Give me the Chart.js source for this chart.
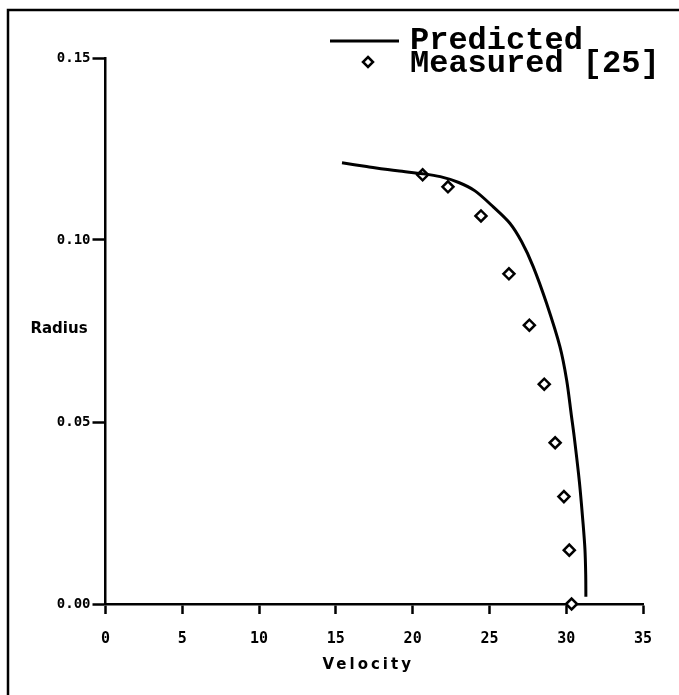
<!DOCTYPE html>
<html>
<head>
<meta charset="utf-8">
<script src="https://cdn.jsdelivr.net/npm/chart.js@4.4.1/dist/chart.umd.min.js"></script>
<style>
  html, body { margin: 0; padding: 0; background: #fff; }
  canvas { display: block; }
</style>
</head>
<body>
<canvas id="c" width="679" height="695"></canvas>
<script>
// ---- data ----
const velocityTicks = [0, 5, 10, 15, 20, 25, 30, 35];
const radiusTicks = [0, 0.05, 0.10, 0.15];
const radiusTickLabels = ['0.00', '0.05', '0.10', '0.15'];

const predictedVelocity = [15.4, 17.0, 19.0, 20.65, 21.8, 23.0, 24.06, 25.25, 26.33, 27.1, 27.85, 28.72, 29.59, 30.03, 30.33, 30.52, 30.86, 31.1, 31.22, 31.27, 31.28];
const predictedRadius   = [0.1212, 0.1202, 0.1190, 0.1182, 0.1174, 0.1158, 0.1135, 0.1091, 0.1046, 0.0995, 0.0927, 0.0826, 0.0707, 0.0615, 0.0520, 0.0460, 0.0335, 0.0220, 0.0150, 0.0080, 0.0020];

const measuredVelocity = [20.65, 22.3, 24.45, 26.27, 27.6, 28.57, 29.28, 29.85, 30.2, 30.35];
const measuredRadius   = [0.1179, 0.1146, 0.1066, 0.0907, 0.0766, 0.0604, 0.0443, 0.0295, 0.0148, 0.0];

const seriesLabels = ['Predicted', 'Measured [25]'];
const xTitle = 'Velocity';
const yTitle = 'Radius';

// ---- helpers ----
const toPoints = (xs, ys) => xs.map((x, i) => ({ x: x, y: ys[i] }));

const framePlugin = {
  id: 'frame',
  beforeDraw(chart) {
    const ctx = chart.ctx;
    ctx.save();
    ctx.fillStyle = '#fff';
    ctx.fillRect(0, 0, chart.width, chart.height);
    ctx.strokeStyle = '#000';
    ctx.lineWidth = 2.5;
    ctx.beginPath();
    ctx.moveTo(8, chart.height);
    ctx.lineTo(8, 10);
    ctx.lineTo(chart.width, 10);
    ctx.stroke();
    ctx.restore();
  },
  afterDraw(chart) {
    const ctx = chart.ctx;
    const xs = chart.scales.x, ys = chart.scales.y;
    ctx.save();
    ctx.fillStyle = '#000';
    // axis titles
    ctx.font = 'bold 15px "DejaVu Sans"';
    ctx.textAlign = 'center';
    ctx.textBaseline = 'middle';
    ctx.fillText(yTitle, 59, ys.getPixelForValue(0.075) - 2);
    ctx.letterSpacing = '3px';
    ctx.fillText(xTitle, (xs.left + xs.right) / 2 - 6, 665);
    ctx.letterSpacing = '0px';
    // legend
    const ds = chart.data.datasets;
    ctx.font = 'bold 32px "Liberation Mono"';
    ctx.textAlign = 'left';
    ctx.textBaseline = 'alphabetic';
    // line sample
    ctx.strokeStyle = '#000';
    ctx.lineWidth = 3;
    ctx.beginPath();
    ctx.moveTo(330, 41);
    ctx.lineTo(399, 41);
    ctx.stroke();
    ctx.fillText(ds[0].label, 410, 49);
    // diamond sample
    ctx.lineWidth = 2.5;
    ctx.fillStyle = '#fff';
    ctx.beginPath();
    const cx = 368, cy = 62, r = 5;
    ctx.moveTo(cx, cy - r);
    ctx.lineTo(cx + r, cy);
    ctx.lineTo(cx, cy + r);
    ctx.lineTo(cx - r, cy);
    ctx.closePath();
    ctx.fill();
    ctx.stroke();
    ctx.fillStyle = '#000';
    ctx.fillText(ds[1].label, 410, 72);
    ctx.restore();
  }
};

new Chart(document.getElementById('c'), {
  type: 'scatter',
  data: {
    datasets: [
      {
        label: seriesLabels[0],
        data: toPoints(predictedVelocity, predictedRadius),
        showLine: true,
        borderColor: '#000',
        borderWidth: 3,
        pointRadius: 0,
        tension: 0.3,
        fill: false,
        clip: false
      },
      {
        label: seriesLabels[1],
        data: toPoints(measuredVelocity, measuredRadius),
        showLine: false,
        pointStyle: 'rectRot',
        pointRadius: 5.5,
        pointBorderWidth: 2.5,
        borderColor: '#000',
        backgroundColor: '#fff',
        clip: false
      }
    ]
  },
  options: {
    responsive: false,
    animation: false,
    devicePixelRatio: 1,
    layout: { padding: { left: 0, top: 58, right: 36, bottom: 0 } },
    plugins: {
      legend: { display: false },
      tooltip: { enabled: false }
    },
    scales: {
      x: {
        type: 'linear',
        min: 0,
        max: 35,
        afterBuildTicks: s => { s.ticks = velocityTicks.map(v => ({ value: v })); },
        afterFit: s => { s.height = 91; },
        grid: { drawOnChartArea: false, drawTicks: true, tickLength: 10, tickWidth: 2.5, tickColor: '#000' },
        border: { display: true, color: '#000', width: 2.5 },
        ticks: {
          color: '#000',
          padding: 16,
          autoSkip: false,
          maxRotation: 0,
          font: { family: 'DejaVu Sans Mono', weight: 'bold', size: 15 },
          callback: v => String(v)
        }
      },
      y: {
        type: 'linear',
        min: 0,
        max: 0.15,
        afterBuildTicks: s => { s.ticks = radiusTicks.map(v => ({ value: v })); },
        afterFit: s => { s.width = 105.5; },
        grid: { drawOnChartArea: false, drawTicks: true, tickLength: 13, tickWidth: 2.5, tickColor: '#000' },
        border: { display: true, color: '#000', width: 2.5 },
        ticks: {
          color: '#000',
          padding: 2,
          autoSkip: false,
          font: { family: 'DejaVu Sans Mono', weight: 'bold', size: 14 },
          callback: (v) => {
            const i = radiusTicks.findIndex(t => Math.abs(t - v) < 1e-9);
            return i >= 0 ? radiusTickLabels[i] : '';
          }
        }
      }
    }
  },
  plugins: [framePlugin]
});
</script>
</body>
</html>
